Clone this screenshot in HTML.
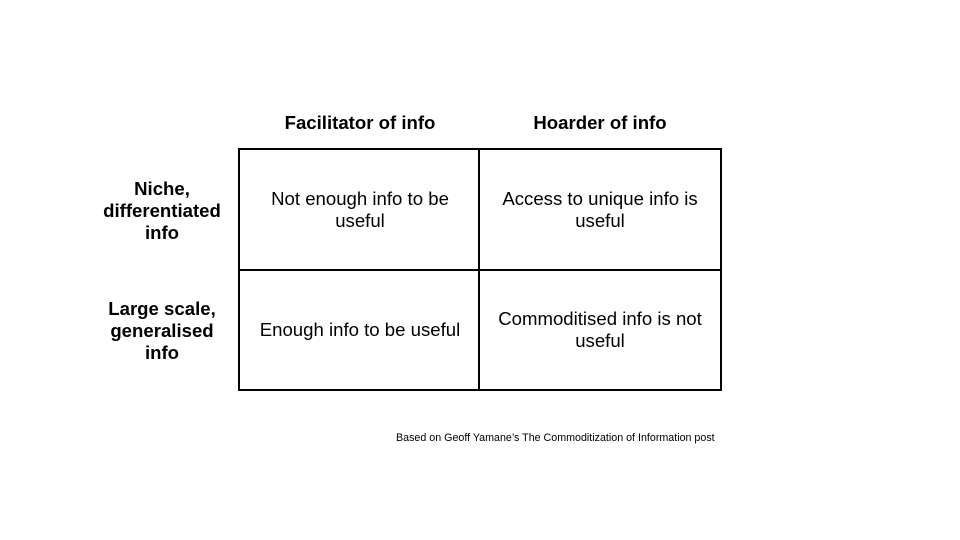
<!DOCTYPE html>
<html><head><style>
body{margin:0;width:960px;height:540px;background:#fff;position:relative;font-family:"Liberation Sans",Arial,sans-serif;color:#000;overflow:hidden}
.a{position:absolute;text-align:center}
.h{font-weight:bold;font-size:18.6px;line-height:22px}
.c{font-size:18.6px;line-height:22px;display:flex;align-items:center;justify-content:center}
.box{position:absolute;border:2px solid #000;box-sizing:border-box}
</style></head><body>
<div class="a h" style="left:240px;width:240px;top:112px">Facilitator of info</div>
<div class="a h" style="left:480px;width:240px;top:112px">Hoarder of info</div>
<div class="a h" style="left:82px;width:160px;top:178px">Niche,<br>differentiated<br>info</div>
<div class="a h" style="left:82px;width:160px;top:298px">Large scale,<br>generalised<br>info</div>
<div class="box" style="left:238px;top:148px;width:484px;height:243px"></div>
<div style="position:absolute;left:478px;top:148px;width:2px;height:243px;background:#000"></div>
<div style="position:absolute;left:238px;top:269px;width:484px;height:2px;background:#000"></div>
<div class="a c" style="left:245px;width:230px;top:150px;height:120px">Not enough info to be useful</div>
<div class="a c" style="left:485px;width:230px;top:150px;height:120px">Access to unique info is useful</div>
<div class="a c" style="left:240px;width:240px;top:270px;height:120px">Enough info to be useful</div>
<div class="a c" style="left:485px;width:230px;top:270px;height:120px">Commoditised info is not useful</div>
<div class="a" style="left:396px;top:432px;font-size:10.7px;white-space:nowrap">Based on Geoff Yamane’s The Commoditization of Information post</div>
</body></html>
